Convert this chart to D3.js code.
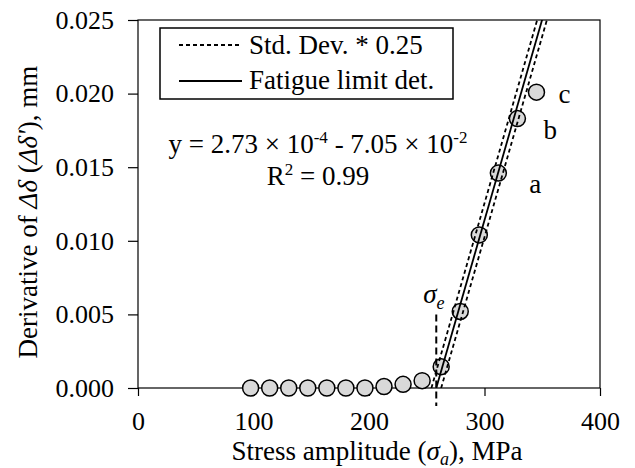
<!DOCTYPE html>
<html>
<head>
<meta charset="utf-8">
<script src="https://cdn.jsdelivr.net/npm/d3@7"></script>
<style>
  body { margin: 0; background: #fff; }
  svg text { font-family: "Liberation Serif", "DejaVu Serif", serif !important; fill: #000; }
</style>
</head>
<body>
<svg id="chart"></svg>
<script>
// measured points
const stress = [97.5, 114, 130.5, 147, 163.5, 180, 196.5, 213, 229.5, 246, 262.5, 279, 295.5, 312, 328.5, 345];
const deriv = [0, 0, 0, 0, 0, 0, 0, 0.0001, 0.00025, 0.0005, 0.00145, 0.0052, 0.0104, 0.0146, 0.0183, 0.0201];
const pointLabels = ["a", "b", "c"];
const labelledIdx = [13, 14, 15];

// fit  y = slope * x + intercept
const slope = 2.73e-4;
const intercept = -7.05e-2;
const stdOffset = 0.00115;

const xTicks = [0, 100, 200, 300, 400];
const yTicks = [0, 0.005, 0.010, 0.015, 0.020, 0.025];

const W = 635, H = 468;
const margin = { top: 20, right: 35, bottom: 80, left: 138 };
const width = W - margin.left - margin.right;
const height = H - margin.top - margin.bottom;

const svg = d3.select("#chart").attr("width", W).attr("height", H);
const g = svg.append("g").attr("transform", `translate(${margin.left},${margin.top})`);

const x = d3.scaleLinear().domain([0, 400]).range([0, width]);
const y = d3.scaleLinear().domain([0, 0.025]).range([height, 0]);

g.append("defs").append("clipPath").attr("id", "clip")
  .append("rect").attr("width", width).attr("height", height);

// frame
g.append("rect").attr("width", width).attr("height", height)
  .attr("fill", "none").attr("stroke", "#000").attr("stroke-width", 1.2);

const xAxis = g.append("g").attr("transform", `translate(0,${height})`)
  .call(d3.axisBottom(x).tickValues(xTicks).tickSize(8).tickSizeOuter(0).tickPadding(16));
const yAxis = g.append("g")
  .call(d3.axisLeft(y).tickValues(yTicks).tickFormat(d3.format(".3f")).tickSize(10).tickSizeOuter(0).tickPadding(14));
[xAxis, yAxis].forEach(a => {
  a.attr("font-family", null);
  a.select(".domain").remove();
  a.selectAll("line").attr("stroke", "#000").attr("stroke-width", 1.2);
  a.selectAll("text").style("font-size", "26px").attr("fill", "#000");
});

// points
g.append("g").selectAll("circle")
  .data(stress.map((s, i) => ({ s, d: deriv[i] })))
  .join("circle")
  .attr("cx", d => x(d.s)).attr("cy", d => y(d.d)).attr("r", 8)
  .attr("fill", "#d9d9d9").attr("stroke", "#000").attr("stroke-width", 1.5);

// fit lines
const lineFor = off => {
  const b = intercept + off;
  return [[(0 - b) / slope, 0], [(0.0265 - b) / slope, 0.0265]];
};
const line = d3.line().x(d => x(d[0])).y(d => y(d[1]));
const fits = g.append("g").attr("clip-path", "url(#clip)");
fits.append("path").attr("d", line(lineFor(0)))
  .attr("stroke", "#000").attr("stroke-width", 1.8).attr("fill", "none");
[stdOffset, -stdOffset].forEach(o => {
  fits.append("path").attr("d", line(lineFor(o)))
    .attr("stroke", "#000").attr("stroke-width", 1.8).attr("fill", "none")
    .attr("stroke-dasharray", "4,3");
});

// fatigue limit marker
const sigmaE = -intercept / slope;
g.append("line")
  .attr("x1", x(sigmaE)).attr("x2", x(sigmaE))
  .attr("y1", y(0.005)).attr("y2", height + 18)
  .attr("stroke", "#000").attr("stroke-width", 2).attr("stroke-dasharray", "7,4");
const se = g.append("text").attr("x", x(sigmaE) - 13).attr("y", y(0.0058))
  .style("font-size", "27px").style("font-style", "italic");
se.append("tspan").text("σ");
se.append("tspan").text("e").style("font-size", "18px").attr("dy", 6);

// a b c labels
const labOff = [[31, 10], [26, 11], [22, 1]];
pointLabels.forEach((t, k) => {
  const i = labelledIdx[k];
  g.append("text").attr("x", x(stress[i]) + labOff[k][0]).attr("y", y(deriv[i]) + labOff[k][1])
    .attr("dy", "0.35em").style("font-size", "27px").text(t);
});

// legend
const lg = svg.append("g");
lg.append("rect").attr("x", 160).attr("y", 28).attr("width", 293).attr("height", 71)
  .attr("fill", "#fff").attr("stroke", "#000").attr("stroke-width", 1.5);
lg.append("line").attr("x1", 179).attr("x2", 242).attr("y1", 45).attr("y2", 45)
  .attr("stroke", "#000").attr("stroke-width", 1.8).attr("stroke-dasharray", "4,3");
lg.append("line").attr("x1", 179).attr("x2", 242).attr("y1", 81).attr("y2", 81)
  .attr("stroke", "#000").attr("stroke-width", 1.8);
lg.append("text").attr("x", 249).attr("y", 54).style("font-size", "27px").text("Std. Dev. * 0.25");
lg.append("text").attr("x", 249).attr("y", 89).style("font-size", "27px").text("Fatigue limit det.");

// equation
const eq = svg.append("text").attr("x", 318).attr("y", 153).attr("text-anchor", "middle").style("font-size", "27px");
eq.append("tspan").text("y = 2.73 × 10");
eq.append("tspan").text("-4").style("font-size", "17px").attr("dy", -10);
eq.append("tspan").text(" - 7.05 × 10").attr("dy", 10);
eq.append("tspan").text("-2").style("font-size", "17px").attr("dy", -10);
const r2 = svg.append("text").attr("x", 318).attr("y", 185).attr("text-anchor", "middle").style("font-size", "27px");
r2.append("tspan").text("R");
r2.append("tspan").text("2").style("font-size", "17px").attr("dy", -10);
r2.append("tspan").text(" = 0.99").attr("dy", 10);

// axis titles
const xt = svg.append("text").attr("x", 377).attr("y", 460).attr("text-anchor", "middle").style("font-size", "27px");
xt.append("tspan").text("Stress amplitude (");
xt.append("tspan").text("σ").style("font-style", "italic");
xt.append("tspan").text("a").style("font-style", "italic").style("font-size", "18px").attr("dy", 5);
xt.append("tspan").text("), MPa").attr("dy", -5);

const yt = svg.append("text").attr("transform", "translate(37,212) rotate(-90)")
  .attr("text-anchor", "middle").style("font-size", "27px");
yt.append("tspan").text("Derivative of ");
yt.append("tspan").text("Δδ").style("font-style", "italic");
yt.append("tspan").text(" (");
yt.append("tspan").text("Δδ'").style("font-style", "italic");
yt.append("tspan").text("), mm");
</script>
</body>
</html>
